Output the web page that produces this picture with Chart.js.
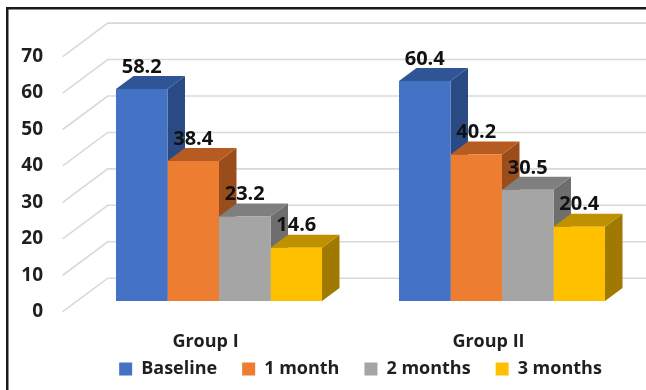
<!DOCTYPE html>
<html>
<head>
<meta charset="utf-8">
<script src="https://cdn.jsdelivr.net/npm/chart.js@4/dist/chart.umd.min.js"></script>
<style>
  html, body { margin: 0; padding: 0; background: #ffffff; }
  #wrap { position: relative; width: 646px; height: 390px; }
</style>
</head>
<body>
<div id="wrap"><canvas id="c" width="646" height="390"></canvas></div>
<script>
// Categories, series and axis ticks
const categories = ['Group I', 'Group II'];
const seriesNames = ['Baseline', '1 month', '2 months', '3 months'];
const baseline = [58.2, 60.4];
const month1 = [38.4, 40.2];
const month2 = [23.2, 30.5];
const month3 = [14.6, 20.4];
const yTicks = [0, 10, 20, 30, 40, 50, 60, 70];

// Face colours for each series: front, top, side
const frontColors = ['#4472C4', '#ED7D31', '#A5A5A5', '#FFC000'];
const topColors   = ['#2F5597', '#B65C22', '#7F7F7F', '#BF9000'];
const sideColors  = ['#294A83', '#9A4D1B', '#6E6E6E', '#A07A00'];

const FONT = "'Open Sans', 'Liberation Sans', sans-serif";
const TEXT = '#1f1f1f';

// Projection of the 3D depth: bar depth, and the floor's front/back edges
const BAR_DEPTH = { dx: 17.5, dy: -13 };
const WALL_FRONT = { dx: -14.8, dy: 10.7 };
const WALL_BACK = { dx: 30.2, dy: -22.8 };

const seriesValues = [baseline, month1, month2, month3];

const threeD = {
  id: 'threeD',
  beforeDatasetsDraw(chart) {
    const { ctx, chartArea, scales } = chart;
    const y = scales.y;
    const W = chart.width;

    // Wall gridlines: diagonal from the front edge, then straight along the back wall
    ctx.save();
    ctx.strokeStyle = '#d9d9d9';
    ctx.lineWidth = 1.6;
    yTicks.forEach(v => {
      const py = y.getPixelForValue(v);
      ctx.beginPath();
      ctx.moveTo(chartArea.left + WALL_FRONT.dx, py + WALL_FRONT.dy);
      ctx.lineTo(chartArea.left + WALL_BACK.dx, py + WALL_BACK.dy);
      ctx.lineTo(W, py + WALL_BACK.dy);
      ctx.stroke();
    });
    ctx.restore();

    // Top and side faces of each bar, left to right so neighbours overlap correctly
    ctx.save();
    categories.forEach((_, i) => {
      chart.data.datasets.forEach((ds, d) => {
        const meta = chart.getDatasetMeta(d);
        const el = meta.data[i];
        if (!el) return;
        const x0 = el.x - el.width / 2;
        const x1 = el.x + el.width / 2;
        const top = el.y;
        const base = el.base;
        const { dx, dy } = BAR_DEPTH;

        ctx.fillStyle = sideColors[d];
        ctx.beginPath();
        ctx.moveTo(x1, top);
        ctx.lineTo(x1 + dx, top + dy);
        ctx.lineTo(x1 + dx, base + dy);
        ctx.lineTo(x1, base);
        ctx.closePath();
        ctx.fill();

        ctx.fillStyle = topColors[d];
        ctx.beginPath();
        ctx.moveTo(x0, top);
        ctx.lineTo(x1, top);
        ctx.lineTo(x1 + dx, top + dy);
        ctx.lineTo(x0 + dx, top + dy);
        ctx.closePath();
        ctx.fill();
      });
    });
    ctx.restore();
  },
  afterDatasetsDraw(chart) {
    const { ctx } = chart;
    ctx.save();
    ctx.font = `bold 20px ${FONT}`;
    ctx.fillStyle = '#111111';
    ctx.textAlign = 'center';
    ctx.textBaseline = 'middle';
    chart.data.datasets.forEach((ds, d) => {
      const meta = chart.getDatasetMeta(d);
      meta.data.forEach((el, i) => {
        ctx.fillText(ds.data[i].toFixed(1), el.x, el.y - 22);
      });
    });
    ctx.restore();
  },
  afterDraw(chart) {
    // Frame edges along the top and left
    const { ctx } = chart;
    ctx.save();
    ctx.fillStyle = '#1a1a1a';
    ctx.fillRect(6, 7, 2.5, chart.height - 7);
    ctx.fillRect(6, 7, chart.width - 6, 2.5);
    ctx.restore();
  }
};

new Chart(document.getElementById('c'), {
  type: 'bar',
  data: {
    labels: categories,
    datasets: seriesNames.map((name, d) => ({
      label: name,
      data: seriesValues[d],
      backgroundColor: frontColors[d],
      borderWidth: 0,
      categoryPercentage: 0.728,
      barPercentage: 1
    }))
  },
  options: {
    responsive: false,
    animation: false,
    devicePixelRatio: 1,
    layout: { padding: { top: 42.7, right: 2.5, bottom: 2, left: 0 } },
    scales: {
      x: {
        grid: { display: false, drawTicks: false },
        border: { display: false },
        ticks: {
          font: { family: FONT, size: 18, weight: 'bold' },
          color: TEXT,
          padding: 30,
          labelOffset: -13.5
        },
        afterFit(scale) {
          // Category labels sit lower than the axis box; let them draw outside it
          scale.height = 34;
          scale._computeLabelArea = () => undefined;
        }
      },
      y: {
        min: 0,
        max: 70,
        grid: { display: false, drawTicks: false },
        border: { display: false },
        ticks: {
          stepSize: 10,
          font: { family: FONT, size: 19, weight: 'bold' },
          color: TEXT,
          padding: 34.5,
          labelOffset: 10.7
        },
        afterFit(scale) { scale.width = 77.5; }
      }
    },
    plugins: {
      legend: {
        position: 'bottom',
        fullSize: false,
        labels: {
          boxWidth: 13,
          boxHeight: 13,
          padding: 25,
          color: TEXT,
          font: { family: FONT, size: 18, weight: 'bold' }
        }
      },
      tooltip: { enabled: false }
    }
  },
  plugins: [threeD]
});
</script>
</body>
</html>
